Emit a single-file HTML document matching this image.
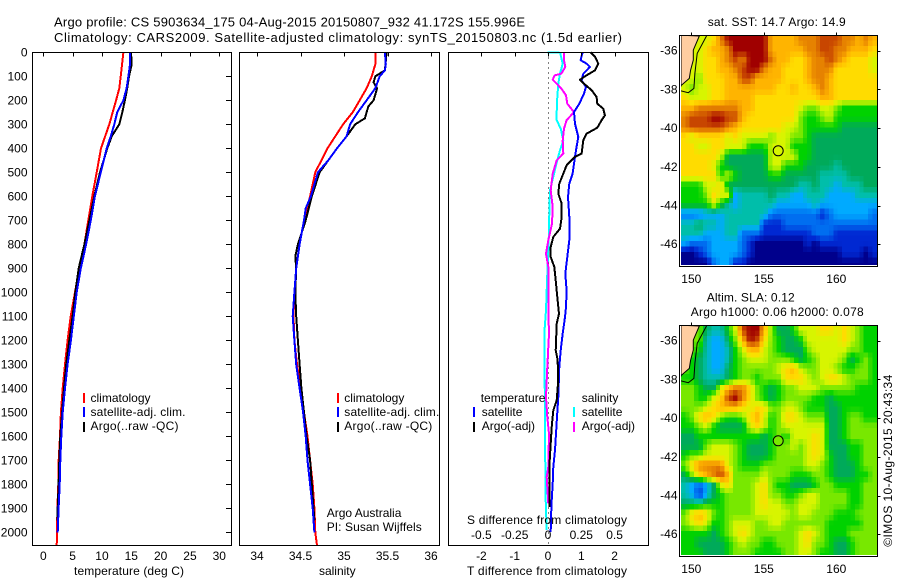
<!DOCTYPE html>
<html>
<head>
<meta charset="utf-8">
<title>Argo profile</title>
<style>
html,body{margin:0;padding:0;background:#fff;}
svg{display:block;}
text{font-family:"Liberation Sans",sans-serif;font-size:12px;fill:#000;}
.title{font-size:13px;}
</style>
</head>
<body>
<svg id="chart" width="900" height="580" viewBox="0 0 900 580" xmlns="http://www.w3.org/2000/svg">
<defs>
<clipPath id="clip-sst"><rect x="681" y="36" width="196" height="229"/></clipPath>
<clipPath id="clip-sla"><rect x="681" y="326" width="196" height="229"/></clipPath>
</defs>
<rect width="900" height="580" fill="#fff"/>
<text class="title" x="54" y="26.5" textLength="471">Argo profile: CS 5903634_175 04-Aug-2015 20150807_932 41.172S 155.996E</text>
<text class="title" x="54" y="42" textLength="568">Climatology: CARS2009. Satellite-adjusted climatology: synTS_20150803.nc (1.5d earlier)</text>

<g id="plots"></g>

<text x="74" y="575" textLength="110">temperature (deg C)</text>
<text x="337.3" y="575" text-anchor="middle">salinity</text>
<text x="467" y="575" textLength="160">T difference from climatology</text>
<text x="467" y="524" textLength="160">S difference from climatology</text>

<g>
<rect x="83" y="393" width="2" height="10" fill="#f00"/>
<text x="90.5" y="402">climatology</text>
<rect x="83" y="407" width="2" height="10" fill="#00f"/>
<text x="90.5" y="416" textLength="95">satellite-adj. clim.</text>
<rect x="83" y="422" width="2" height="10" fill="#000"/>
<text x="90.5" y="430" textLength="88">Argo(..raw -QC)</text>
</g>
<g>
<rect x="337" y="393" width="2" height="10" fill="#f00"/>
<text x="344.3" y="402">climatology</text>
<rect x="337" y="407" width="2" height="10" fill="#00f"/>
<text x="344.3" y="416" textLength="95">satellite-adj. clim.</text>
<rect x="337" y="422" width="2" height="10" fill="#000"/>
<text x="344.3" y="430" textLength="88">Argo(..raw -QC)</text>
</g>
<text x="326.7" y="517">Argo Australia</text>
<text x="326.7" y="531" textLength="95">PI: Susan Wijffels</text>

<g>
<text x="480.7" y="402">temperature</text>
<rect x="473" y="407" width="2" height="10" fill="#00f"/>
<text x="481.7" y="416">satellite</text>
<rect x="473" y="422" width="2" height="10" fill="#000"/>
<text x="481.7" y="430">Argo(-adj)</text>
<text x="581.7" y="402">salinity</text>
<rect x="573" y="407" width="2" height="10" fill="#0ff"/>
<text x="581.7" y="416">satellite</text>
<rect x="573" y="422" width="2" height="10" fill="#f0f"/>
<text x="581.7" y="430">Argo(-adj)</text>
</g>

<text x="707.7" y="26" textLength="138">sat. SST: 14.7 Argo: 14.9</text>
<text x="706.7" y="301.5" textLength="88">Altim. SLA: 0.12</text>
<text x="690.7" y="316" textLength="173">Argo h1000: 0.06 h2000: 0.078</text>
<text transform="translate(892,546.7) rotate(-90)" textLength="172">©IMOS 10-Aug-2015 20:43:34</text>
</svg>

<script>
// ---------- profile data ----------
const tClimDepth = [0,100,150,200,300,400,500,600,700,800,900,1000,1100,1200,1300,1400,1500,1600,1700,1800,1900,2000,2055];
const tClimValue = [13.65,13.2,12.96,12.4,11.25,9.83,9.1,8.35,7.67,7.0,6.1,5.4,4.67,4.15,3.7,3.3,3.0,2.85,2.62,2.56,2.4,2.33,2.28];
const tSatDepth = [0,50,100,150,200,250,300,350,400,500,600,700,800,900,1000,1100,1200,1300,1400,1500,1600,1700,1800,1900,2000];
const tSatValue = [14.78,14.78,14.5,14.2,13.65,12.6,12.1,11.5,10.8,9.8,8.8,8.1,7.3,6.4,5.7,5.2,4.7,4.15,3.7,3.3,3.07,2.9,2.8,2.6,2.45];
const tArgoDepth = [0,50,100,150,200,250,300,350,400,500,600,700,800,900,1000,1100,1200,1300,1400,1500,1600,1700,1800,1900,1950];
const tArgoValue = [14.95,15.06,14.6,14.3,13.9,13.47,12.96,11.66,10.9,9.66,8.7,7.85,7,6.03,5.45,5,4.43,3.9,3.53,3.2,2.9,2.73,2.6,2.45,2.4];

const sClimDepth = [0,50,100,150,200,250,300,350,400,450,500,550,600,700,800,900,1000,1100,1200,1300,1400,1500,1600,1700,1800,1900,2000,2055];
const sClimValue = [35.36,35.36,35.32,35.26,35.18,35.1,34.99,34.9,34.81,34.74,34.67,34.64,34.61,34.54,34.49,34.45,34.43,34.42,34.43,34.46,34.5,34.54,34.58,34.61,34.64,34.66,34.67,34.69];
const sSatDepth = [0,50,75,100,150,200,250,300,350,400,450,500,550,600,650,700,800,900,1000,1100,1200,1300,1400,1500,1600,1700,1800,1900,2000];
const sSatValue = [35.47,35.48,35.47,35.41,35.36,35.26,35.16,35.07,35.03,34.92,34.82,34.7,34.66,34.62,34.56,34.54,34.49,34.45,34.43,34.41,34.43,34.45,34.49,34.53,34.56,34.58,34.61,34.64,34.66];
const sArgoDepth = [0,75,100,125,150,200,225,250,275,300,350,400,450,500,600,700,800,850,900,1000,1100,1200,1300,1400,1500,1600,1700,1800,1900,1950];
const sArgoValue = [35.49,35.47,35.36,35.34,35.38,35.34,35.28,35.26,35.24,35.13,35.03,34.92,34.82,34.72,34.63,34.56,34.47,34.44,34.45,34.44,34.45,34.47,34.49,34.51,34.54,34.57,34.61,34.63,34.65,34.66];

const dtSatDepth = [0,33,47,61,89,117,144,172,214,249,297,353,408,464,506,547,603,686,783,853,922,992,1061,1103,1172,1242,1311,1436,1519,1589,1658,1728,1797,1867,1936,1998];
const dtSatValue = [1.04,.98,1.16,1.26,1.06,1.01,1.14,1.08,.94,.78,.81,.91,.84,.78,.74,.64,.6,.64,.64,.58,.52,.56,.54,.51,.44,.38,.34,.31,.27,.24,.21,.16,.14,.11,.09,.08];
const dtArgoDepth = [0,19,47,75,96,114,131,158,186,214,235,263,283,314,339,367,422,436,471,506,547,589,631,686,735,769,811,853,894,950,1019,1089,1131,1242,1283,1381,1450,1492,1561,1631,1728,1894];
const dtArgoValue = [1.28,1.41,1.51,1.41,1.16,.96,1.08,1.31,1.46,1.48,1.66,1.71,1.61,1.48,1.16,1.06,1.01,.81,.56,.46,.34,.31,.41,.41,.36,.16,.08,.08,.19,.23,.28,.33,.26,.23,.29,.30,.26,.16,.11,.08,.04,.04];
const dsSatDepth = [0,2,12,47,89,131,186,249,283,318,367,408,450,506,575,672,783,922,1075,1172,1311,1450,1589,1728,1867,1990];
const dsSatValue = [-.005,.095,.095,.11,.09,.0775,.07,.065,.065,.095,.115,.09,.07,.045,.015,.01,.005,-.005,-.015,-.0275,-.0275,-.0225,-.0225,-.02,-.0175,-.01];
const dsArgoDepth = [0,33,61,89,96,114,131,151,179,214,249,283,318,367,422,450,506,575,644,714,783,839,894,950,1075,1172,1311,1436,1519,1589,1728,1770,1880];
const dsArgoValue = [.12,.12,.13,.10,.05,.035,.065,.10,.135,.145,.195,.14,.12,.11,.115,.065,.035,.02,.035,.03,.0025,-.015,.0025,.0025,.0025,.0075,-.005,-.015,-.005,.0075,.0025,-.01,.0025];

// ---------- tick labels ----------
const depthTicks = [0,100,200,300,400,500,600,700,800,900,1000,1100,1200,1300,1400,1500,1600,1700,1800,1900,2000];
const tempTicks = [0,5,10,15,20,25,30];
const salTicks = [34,34.5,35,35.5,36];
const dtTicks = [-2,-1,0,1,2];
const dsTicks = [-0.5,-0.25,0,0.25,0.5];
const lonTicks = [150,155,160];
const latTicks = [-36,-38,-40,-42,-44,-46];

// ---------- gridded map data: colour level per 0.5 degree cell, north to south ----------
const sstGrid = [
[8,8,8,8,9,11,13,13,13,13,13,13,10,10,10,10,11,11,11,12,12,12,11,11,10,11,10],
[8,8,8,9,10,10,11,13,13,13,13,13,10,10,10,10,10,11,11,12,12,11,11,10,10,10,9],
[8,8,8,9,9,10,11,12,11,13,13,13,11,10,10,9,9,10,11,11,12,11,10,9,9,9,8],
[8,8,8,9,9,10,10,11,12,13,13,11,10,10,9,9,9,10,11,11,11,9,9,9,9,9,8],
[8,8,7,9,9,9,10,10,12,12,10,10,10,10,9,9,9,10,11,11,10,9,9,9,9,9,9],
[8,7,8,8,9,9,10,10,10,10,10,10,10,9,9,10,9,9,10,11,10,9,9,9,9,9,9],
[9,8,8,8,9,9,10,10,10,10,9,9,9,9,9,9,9,9,9,10,10,9,9,9,9,9,9],
[10,10,11,11,11,11,11,11,10,10,9,9,9,9,9,9,8,7,7,8,8,7,6,6,6,6,6],
[11,12,12,12,13,13,12,12,10,9,9,9,9,9,9,9,7,6,6,7,8,6,6,6,6,6,6],
[11,12,12,12,12,12,11,10,9,9,9,9,9,9,8,8,7,6,6,6,6,6,5,5,5,5,5],
[9,8,9,9,9,9,8,9,8,8,8,8,7,8,8,7,7,6,5,5,5,5,5,5,5,5,5],
[9,9,8,8,9,9,8,8,8,6,6,6,8,8,8,6,6,6,5,5,5,5,5,5,5,5,5],
[9,9,9,9,9,8,5,5,5,5,5,5,8,8,8,8,6,6,5,5,5,5,5,5,5,5,5],
[9,9,9,9,8,6,5,5,5,5,5,5,8,8,6,6,6,5,5,5,5,4,5,5,5,5,5],
[9,9,9,9,9,6,8,6,5,5,5,5,6,6,5,5,5,5,5,4,4,4,4,5,5,5,5],
[6,6,6,8,8,9,5,5,5,5,5,5,5,5,5,5,4,4,5,4,4,3,4,4,4,5,5],
[6,6,6,7,9,8,8,3,4,4,4,4,5,4,4,3,3,4,4,4,3,3,3,3,4,4,4],
[6,6,6,6,8,6,4,3,4,4,4,4,4,3,3,3,3,3,4,3,3,3,3,3,3,3,3],
[2,2,2,3,3,3,4,4,4,4,4,4,2,2,2,2,2,2,2,1,2,3,3,3,3,3,2],
[4,4,5,4,4,3,4,4,4,4,4,1,1,1,2,2,2,2,2,2,2,2,2,2,2,2,2],
[4,4,4,3,3,3,4,4,2,2,2,1,1,1,1,1,1,1,2,2,2,1,1,1,1,1,1],
[3,2,2,2,3,3,3,3,2,1,0,0,0,0,0,0,0,1,0,1,1,1,1,1,1,1,1],
[0,0,1,2,3,3,3,3,2,1,0,0,0,0,0,0,0,0,0,0,0,0,1,1,1,0,1],
[0,0,0,0,2,3,3,1,1,0,0,0,0,0,0,0,0,0,0,0,0,0,0,0,0,0,0]
];
const slaGrid = [
[7,7,7,5,4,4,6,8,12,13,13,10,7,5,5,6,8,8,8,9,9,8,9,8,7,6,6],
[7,7,7,4,3,3,5,7,10,13,12,9,7,6,5,5,6,8,8,8,8,8,9,8,7,6,6],
[7,7,6,4,3,3,4,6,8,10,10,8,7,6,5,5,5,7,8,8,8,8,8,7,7,6,6],
[7,6,5,4,3,3,4,6,7,8,8,8,7,7,7,6,5,6,7,8,8,8,7,5,6,7,6],
[7,6,5,4,3,3,5,6,7,7,7,7,7,8,9,10,8,7,7,8,8,7,6,6,7,7,6],
[6,6,5,4,4,4,5,6,7,7,6,7,7,7,9,9,9,8,7,8,9,9,8,7,7,7,6],
[7,7,6,5,5,8,10,11,11,9,7,6,5,6,7,7,8,8,8,7,7,7,7,7,6,6,6],
[7,7,6,6,8,9,12,13,11,9,7,6,5,6,7,7,7,7,6,6,5,6,6,6,6,6,6],
[7,7,7,8,9,10,10,10,9,8,9,9,7,7,8,8,7,6,6,6,5,5,6,6,6,6,6],
[6,7,9,10,9,7,6,6,7,9,10,8,6,7,9,9,8,7,7,7,5,5,6,7,7,6,6],
[6,6,7,8,6,5,5,5,5,8,9,8,6,7,8,8,8,8,8,8,5,5,6,7,7,7,7],
[5,5,6,6,6,6,6,6,6,6,6,5,6,7,6,8,8,8,9,8,5,5,6,7,7,7,7],
[5,5,5,7,8,8,8,7,6,5,5,5,6,7,7,8,7,8,9,8,5,5,5,6,6,7,7],
[6,7,7,8,8,8,8,7,6,5,5,5,6,7,7,7,7,8,9,8,6,5,5,6,6,7,7],
[7,9,11,11,11,11,8,7,6,6,6,7,7,7,7,7,7,8,8,7,6,5,5,5,6,7,7],
[5,7,9,10,11,12,10,7,7,7,7,8,7,7,7,6,6,6,7,7,6,5,5,5,6,6,7],
[4,3,2,3,5,8,9,7,7,7,8,9,7,6,6,5,5,5,6,7,7,6,6,6,6,7,7],
[4,3,1,3,5,6,7,7,7,7,8,9,7,7,6,6,7,8,8,7,7,7,7,6,6,7,7],
[5,5,5,6,6,6,7,7,7,7,8,9,8,8,7,7,8,8,8,7,7,7,7,6,6,7,7],
[7,9,10,9,7,6,7,7,7,7,8,8,8,8,8,7,8,8,7,7,7,6,6,6,7,7,7],
[7,8,9,8,6,6,7,8,8,8,7,7,8,8,7,7,7,7,7,7,6,6,6,6,6,7,7],
[6,6,6,6,5,6,7,8,9,8,7,7,7,7,7,7,8,9,8,7,6,6,6,7,7,7,7],
[6,6,5,5,5,5,6,7,8,7,7,6,6,7,7,7,8,9,7,7,6,5,5,6,7,7,7],
[6,6,6,5,5,5,6,7,7,7,6,6,6,6,7,7,8,8,7,6,6,5,5,6,7,7,7]
];
const landLon = [150.55,150.14,150.14,149.95,149.86,149.33,149.2];
const landLat = [-35.24,-35.97,-36.48,-37.0,-37.43,-37.78,-37.83];
const shelfLon = [151.05,150.41,150.25,150.18,149.79,149.27];
const shelfLat = [-35.24,-36.14,-37.17,-37.95,-38.17,-38.07];
const floatLon = 155.996;
const floatLat = -41.172;
const sstFloatLevel = 8;
const slaFloatLevel = 7;

// ---------- axis functions ----------
const NS = 'http://www.w3.org/2000/svg';
const root = document.getElementById('plots');
const yDepth = d => 52.3 + d * 0.24;
const xTemp = v => 43.3 + v * 5.867;
const xSal = v => 257 + (v - 34) * 87;
const xDT = v => 548 + v * 33.3;
const xDS = v => 548 + v * 133.2;
const xLon = v => 691.3 + (v - 150) * 14.5;
const ySstLat = v => 50.7 + (-36 - v) * 19.35;
const ySlaLat = v => 340.7 + (-36 - v) * 19.35;
const levelColours = [[0,0,140],[0,40,210],[0,110,240],[0,170,255],[0,190,170],[0,170,90],[0,210,0],[120,232,0],[215,245,0],[255,220,0],[255,180,0],[230,130,0],[200,70,0],[160,0,0]];
function levelColour(level) {
  const lo = Math.max(0, Math.min(levelColours.length - 1, Math.floor(level)));
  const hi = Math.min(levelColours.length - 1, lo + 1);
  const f = level - lo;
  const c = levelColours[lo].map((v, i) => Math.round(v + (levelColours[hi][i] - v) * f));
  return 'rgb(' + c.join(',') + ')';
}
// Display resampling between grid cell centres
function sampleGrid(grid, lon, lat) {
  const cf = Math.max(0, Math.min(grid[0].length - 1.001, (lon - 149.54) / 0.5));
  const rf = Math.max(0, Math.min(grid.length - 1.001, (-35.45 - lat) / 0.5));
  const c = Math.floor(cf), r = Math.floor(rf);
  const a = cf - c, b = rf - r;
  return (grid[r][c] * (1 - a) + grid[r][c + 1] * a) * (1 - b) + (grid[r + 1][c] * (1 - a) + grid[r + 1][c + 1] * a) * b;
}

function add(parent, tag, attrs, txt) {
  const el = document.createElementNS(NS, tag);
  for (const k in attrs) el.setAttribute(k, attrs[k]);
  if (txt !== undefined) el.textContent = txt;
  parent.appendChild(el);
  return el;
}
function group(name) {
  const g = add(root, 'g', {});
  
  
  return g;
}
function series(parent, name, xs, ys, xf, yf, colour) {
  const pts = xs.map((v, i) => xf(v).toFixed(1) + ',' + yf(ys[i]).toFixed(1)).join(' ');
  const el = add(parent, 'polyline', {points: pts, fill: 'none', stroke: colour, 'stroke-width': 2, 'stroke-linejoin': 'round', 'shape-rendering': 'crispEdges'});
  
  
}
function frame(parent, x0, y0, x1, y1) {
  const el = add(parent, 'rect', {x: x0, y: y0, width: x1 - x0, height: y1 - y0, fill: 'none', stroke: '#000', 'stroke-width': 1});
  
  
}
function tick(parent, x1, y1, x2, y2) {
  const el = add(parent, 'line', {x1: x1, y1: y1, x2: x2, y2: y2, stroke: '#000', 'stroke-width': 1});
  
  
}
function label(parent, x, y, anchor, txt) {
  const el = add(parent, 'text', {x: x, y: y, 'text-anchor': anchor}, txt);
  
  
}
const snap = v => Math.round(v) + 0.5;
const TOP = 52.5, BOTTOM = 545.5;

// ---------- temperature panel ----------
const p1 = group('temperature-panel');
series(p1, 'temperature-climatology', tClimValue, tClimDepth, xTemp, yDepth, '#f00');
series(p1, 'temperature-argo', tArgoValue, tArgoDepth, xTemp, yDepth, '#000');
series(p1, 'temperature-satellite', tSatValue, tSatDepth, xTemp, yDepth, '#00f');
frame(p1, 32.5, TOP, 231.5, BOTTOM);
depthTicks.forEach(d => {
  tick(p1, 226, snap(yDepth(d)), 231.5, snap(yDepth(d)));
  label(p1, 27.5, yDepth(d) + 4, 'end', String(d));
});
tempTicks.forEach(v => {
  tick(p1, snap(xTemp(v)), TOP, snap(xTemp(v)), TOP + 4);
  label(p1, xTemp(v), 560, 'middle', String(v));
});

// ---------- salinity panel ----------
const p2 = group('salinity-panel');
series(p2, 'salinity-climatology', sClimValue, sClimDepth, xSal, yDepth, '#f00');
series(p2, 'salinity-argo', sArgoValue, sArgoDepth, xSal, yDepth, '#000');
series(p2, 'salinity-satellite', sSatValue, sSatDepth, xSal, yDepth, '#00f');
frame(p2, 239.5, TOP, 439.5, BOTTOM);
salTicks.forEach(v => {
  tick(p2, snap(xSal(v)), TOP, snap(xSal(v)), TOP + 4);
  label(p2, xSal(v), 560, 'middle', String(v));
});

// ---------- difference panel ----------
const p3 = group('difference-panel');
const zeroLine = add(p3, 'line', {x1: 548.5, y1: TOP, x2: 548.5, y2: BOTTOM, stroke: '#000', 'stroke-width': 1, 'stroke-dasharray': '1 4'});


series(p3, 'salinity-diff-satellite', dsSatValue, dsSatDepth, xDS, yDepth, '#0ff');
series(p3, 'salinity-diff-argo', dsArgoValue, dsArgoDepth, xDS, yDepth, '#f0f');
series(p3, 'temperature-diff-satellite', dtSatValue, dtSatDepth, xDT, yDepth, '#00f');
series(p3, 'temperature-diff-argo', dtArgoValue, dtArgoDepth, xDT, yDepth, '#000');
frame(p3, 448.5, TOP, 648.5, BOTTOM);
dtTicks.forEach(v => {
  tick(p3, snap(xDT(v)), TOP, snap(xDT(v)), TOP + 4);
  label(p3, xDT(v), 560, 'middle', String(v));
});
dsTicks.forEach(v => {
  label(p3, xDS(v), 539, 'middle', String(v));
});

// ---------- maps ----------
function drawMap(name, grid, yLat, clipId, frameTop, frameBottom, floatLevel) {
  const m = group(name);
  const cells = add(m, 'g', {'clip-path': 'url(#' + clipId + ')', 'shape-rendering': 'crispEdges'});
  
  
  const stepLon = 0.3, stepLat = 0.28;
  for (let lat = -35.2; lat > -47.2; lat -= stepLat) {
    for (let lon = 149.29; lon < 162.8; lon += stepLon) {
      const level = sampleGrid(grid, lon + stepLon / 2, lat - stepLat / 2);
      const x0 = xLon(lon), x1 = xLon(lon + stepLon);
      const y0 = yLat(lat), y1 = yLat(lat - stepLat);
      const cell = add(cells, 'rect', {x: x0.toFixed(2), y: y0.toFixed(2), width: (x1 - x0 + 0.4).toFixed(2), height: (y1 - y0 + 0.4).toFixed(2), fill: levelColour(level)});
      
      
    }
  }
  const landPts = landLon.map((v, i) => xLon(v).toFixed(1) + ',' + yLat(landLat[i]).toFixed(1)).join(' ');
  const corner = xLon(149.29).toFixed(1) + ',' + yLat(-37.83).toFixed(1) + ' ' + xLon(149.29).toFixed(1) + ',' + yLat(-35.2).toFixed(1);
  const land = add(m, 'polygon', {points: landPts + ' ' + corner, fill: '#ffcda0', stroke: '#000', 'stroke-width': 1, 'clip-path': 'url(#' + clipId + ')'});
  
  
  const shelfPts = shelfLon.map((v, i) => xLon(v).toFixed(1) + ',' + yLat(shelfLat[i]).toFixed(1)).join(' ');
  const shelf = add(m, 'polyline', {points: shelfPts, fill: 'none', stroke: '#000', 'stroke-width': 1, 'clip-path': 'url(#' + clipId + ')'});
  
  
  const marker = add(m, 'circle', {cx: xLon(floatLon).toFixed(1), cy: yLat(floatLat).toFixed(1), r: 5, fill: levelColour(floatLevel), stroke: '#000', 'stroke-width': 1});
  
  
  frame(m, 679.5, frameTop, 877.5, frameBottom);
  lonTicks.forEach(v => {
    tick(m, snap(xLon(v)), frameTop - 3, snap(xLon(v)), frameTop);
    label(m, xLon(v), frameBottom + 16.5, 'middle', String(v));
  });
  latTicks.forEach(v => {
    tick(m, 877.5, snap(yLat(v)), 880.5, snap(yLat(v)));
    label(m, 677.5, yLat(v) + 4, 'end', String(v));
  });
}
drawMap('sst-map', sstGrid, ySstLat, 'clip-sst', 35.5, 266.5, sstFloatLevel);
drawMap('sla-map', slaGrid, ySlaLat, 'clip-sla', 325.5, 556.5, slaFloatLevel);
</script>
</body>
</html>
